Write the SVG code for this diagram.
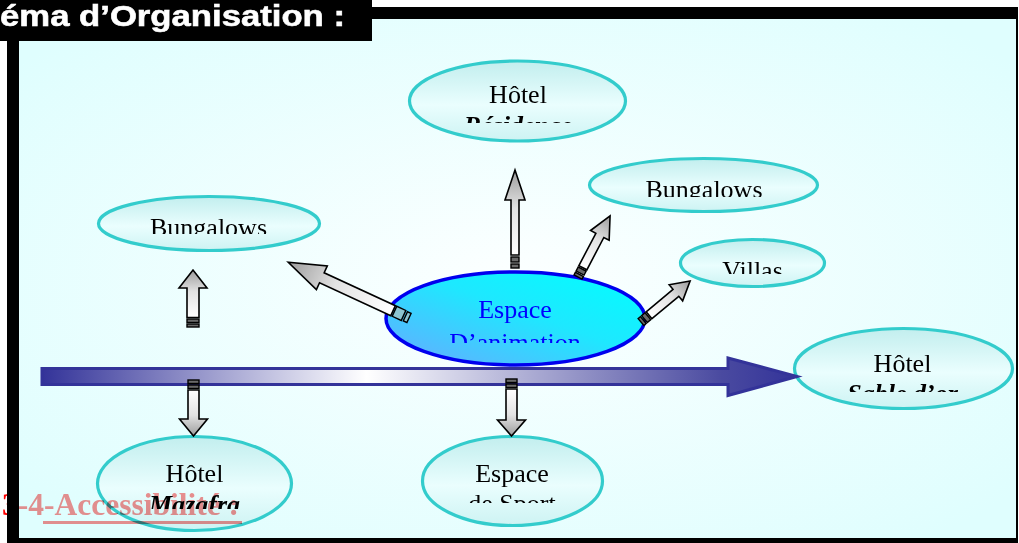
<svg xmlns="http://www.w3.org/2000/svg" width="1019" height="543" viewBox="0 0 1019 543">
<defs>
<style>
.nt{font-family:"Liberation Serif","Times New Roman",serif;font-size:26px;text-anchor:middle;fill:#000}
.bi{font-weight:bold;font-style:italic}
.ell{fill:url(#nodeFill);stroke:#33cccc;stroke-width:3.2}
.sa{fill:url(#grayArr);stroke:#000;stroke-width:1.6;stroke-linejoin:miter}
.st{fill:#6a6a6a;stroke:#000;stroke-width:1.4}
.sq{fill:#8cc4d0;stroke:#000;stroke-width:1.4}
.acc{mix-blend-mode:multiply}
</style>
<radialGradient id="panelFill" cx="0.5" cy="0.5" r="0.65">
<stop offset="0" stop-color="#fcffff"/>
<stop offset="1" stop-color="#dffefe"/>
</radialGradient>
<linearGradient id="nodeFill" x1="0" y1="0" x2="0" y2="1">
<stop offset="0" stop-color="#c2eeee"/>
<stop offset="0.55" stop-color="#eafefe"/>
<stop offset="1" stop-color="#cdf3f3"/>
</linearGradient>
<linearGradient id="animFill" x1="0" y1="1" x2="1" y2="0">
<stop offset="0" stop-color="#6aa8ff"/>
<stop offset="0.55" stop-color="#1ee8ff"/>
<stop offset="1" stop-color="#00ffff"/>
</linearGradient>
<linearGradient id="mainArr" gradientUnits="userSpaceOnUse" x1="42" y1="0" x2="797" y2="0">
<stop offset="0" stop-color="#333399"/>
<stop offset="0.43" stop-color="#ffffff"/>
<stop offset="0.9" stop-color="#4a4aa0"/>
<stop offset="1" stop-color="#333399"/>
</linearGradient>
<linearGradient id="grayArr" x1="0" y1="0" x2="1" y2="0">
<stop offset="0" stop-color="#ffffff"/>
<stop offset="0.55" stop-color="#e2e2e2"/>
<stop offset="1" stop-color="#9c9c9c"/>
</linearGradient>
<clipPath id="cRes"><rect x="400" y="55" width="240" height="68"/></clipPath>
<clipPath id="cBR"><rect x="580" y="150" width="250" height="47"/></clipPath>
<clipPath id="cVil"><rect x="670" y="230" width="170" height="44"/></clipPath>
<clipPath id="cBL"><rect x="90" y="190" width="240" height="44"/></clipPath>
<clipPath id="cAnim"><rect x="380" y="265" width="270" height="78"/></clipPath>
<clipPath id="cSab"><rect x="790" y="320" width="229" height="72"/></clipPath>
<clipPath id="cMaz"><rect x="90" y="430" width="210" height="79"/></clipPath>
<clipPath id="cSpo"><rect x="415" y="430" width="195" height="73"/></clipPath>
</defs>

<rect x="0" y="0" width="1019" height="543" fill="#ffffff"/>
<rect x="19" y="19" width="997" height="519" fill="url(#panelFill)"/>
<path d="M7,7 H1018 V550 H7 Z M19,19 V538 H1016 V19 Z" fill="#000" fill-rule="evenodd"/>

<g id="title">
<rect x="0" y="0" width="372" height="41" fill="#000"/>
<text x="0" y="26" font-family="Liberation Sans, Arial, sans-serif" font-weight="bold" font-size="30" fill="#fff" stroke="#fff" stroke-width="0.6" textLength="345" lengthAdjust="spacingAndGlyphs">éma d’Organisation :</text>
</g>

<g id="node-residence">
<ellipse class="ell" cx="517.5" cy="101" rx="108" ry="40"/>
<g clip-path="url(#cRes)">
<text class="nt" x="518" y="103">Hôtel</text>
<text class="nt bi" x="518" y="134">Résidence</text>
</g>
</g>

<g id="node-bungalows-right">
<ellipse class="ell" cx="703.5" cy="185" rx="114" ry="26.5"/>
<text class="nt" x="704" y="198" clip-path="url(#cBR)">Bungalows</text>
</g>

<g id="node-villas">
<ellipse class="ell" cx="752.5" cy="263" rx="72" ry="23.5"/>
<text class="nt" x="752.5" y="279" clip-path="url(#cVil)">Villas</text>
</g>

<g id="node-bungalows-left">
<ellipse class="ell" cx="209" cy="223.5" rx="110.5" ry="27"/>
<text class="nt" x="208.5" y="236" clip-path="url(#cBL)">Bungalows</text>
</g>

<g id="node-animation">
<ellipse cx="515.5" cy="318.5" rx="129.5" ry="46.5" fill="url(#animFill)" stroke="#0000ee" stroke-width="3.5"/>
<g clip-path="url(#cAnim)">
<text class="nt" x="515" y="318" style="fill:#0000ff">Espace</text>
<text class="nt" x="515" y="351" style="fill:#0000ff">D’animation</text>
</g>
</g>

<g id="node-sable">
<ellipse class="ell" cx="903.5" cy="368.5" rx="109" ry="40"/>
<g clip-path="url(#cSab)">
<text class="nt" x="902.5" y="372">Hôtel</text>
<text class="nt bi" x="902.5" y="402">Sable d’or</text>
</g>
</g>

<g id="node-mazafra">
<ellipse class="ell" cx="194.5" cy="483.5" rx="97" ry="47"/>
<g clip-path="url(#cMaz)">
<text class="nt" x="194.5" y="482">Hôtel</text>
<text class="nt bi" x="194.5" y="513">Mazafra</text>
</g>
</g>

<g id="node-sport">
<ellipse class="ell" cx="512.5" cy="481" rx="90" ry="44.5"/>
<g clip-path="url(#cSpo)">
<text class="nt" x="512" y="482">Espace</text>
<text class="nt" x="512" y="512">de Sport</text>
</g>
</g>

<g id="connectors">
<path d="M42,368.5 L728,368.5 L728,358 L797,376.5 L728,395.5 L728,384.5 L42,384.5 Z" fill="url(#mainArr)" stroke="#333399" stroke-width="3" stroke-linejoin="miter"/>

<g transform="translate(515,268) rotate(-90)">
<rect class="st" x="0" y="-4" width="4" height="8"/>
<rect class="st" x="6" y="-4" width="5" height="8"/>
<path class="sa" d="M13,-4 L68,-4 L68,-10 L98,0 L68,10 L68,4 L13,4 Z"/>
</g>

<g transform="translate(578,277) rotate(-62.3)">
<rect class="st" x="0" y="-4.5" width="3" height="9"/>
<rect class="st" x="4.5" y="-4.5" width="4.5" height="9"/>
<path class="sa" d="M10.5,-4.5 L47,-4.5 L47,-10.5 L69,0 L47,10.5 L47,4.5 L10.5,4.5 Z"/>
</g>

<g transform="translate(641,322) rotate(-39.9)">
<rect class="st" x="0" y="-4.5" width="3" height="9"/>
<rect class="st" x="4.5" y="-4.5" width="4.5" height="9"/>
<path class="sa" d="M10.5,-4.5 L45.5,-4.5 L45.5,-10.5 L64,0 L45.5,10.5 L45.5,4.5 L10.5,4.5 Z"/>
</g>

<g transform="translate(409,318) rotate(-155.2)">
<rect class="sq" x="0" y="-5" width="4" height="10"/>
<rect class="sq" x="6" y="-5.5" width="10" height="11"/>
<path class="sa" d="M17.5,-5.5 L96,-5.5 L96,-13 L133,0 L96,13 L96,5.5 L17.5,5.5 Z"/>
</g>

<g transform="translate(193,327) rotate(-90)">
<rect class="st" x="0" y="-6" width="3" height="12"/>
<rect class="st" x="4.5" y="-6" width="3.5" height="12"/>
<path class="sa" d="M9.5,-6 L39,-6 L39,-14 L57,0 L39,14 L39,6 L9.5,6 Z"/>
</g>

<g transform="translate(193.5,380) rotate(90)">
<rect class="st" x="0" y="-5.5" width="3.5" height="11"/>
<rect class="st" x="5" y="-5.5" width="3.5" height="11"/>
<path class="sa" d="M10,-5.5 L39,-5.5 L39,-14 L56,0 L39,14 L39,5.5 L10,5.5 Z"/>
</g>

<g transform="translate(511.5,379) rotate(90)">
<rect class="st" x="0" y="-5.5" width="3.5" height="11"/>
<rect class="st" x="5" y="-5.5" width="3.5" height="11"/>
<path class="sa" d="M10,-5.5 L41,-5.5 L41,-14 L57,0 L41,14 L41,5.5 L10,5.5 Z"/>
</g>
</g>

<g id="accessibilite" class="acc">
<text x="2" y="515" font-family="Liberation Serif, Times New Roman, serif" font-weight="bold" font-size="31.5"><tspan fill="#ff0000">3</tspan><tspan fill="#ff8f8f">-4-Accessibilité :</tspan></text>
<rect x="43" y="521" width="199" height="3" fill="#ff8f8f"/>
</g>
</svg>
